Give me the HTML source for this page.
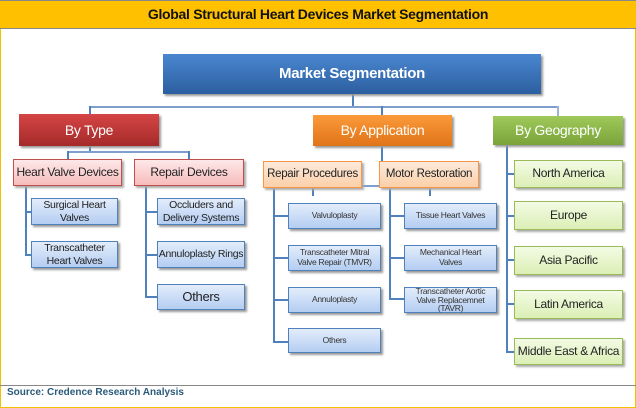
<!DOCTYPE html>
<html><head><meta charset="utf-8"><style>
*{margin:0;padding:0;box-sizing:border-box}
body{width:636px;height:408px;position:relative;background:#fff;font-family:"Liberation Sans",sans-serif;overflow:hidden}
.b{position:absolute;display:flex;align-items:center;justify-content:center;text-align:center;line-height:1.15;letter-spacing:-0.3px}
.l{position:absolute;background:#4f81bd}
.top{background:linear-gradient(#4a86d0,#2c5fa0);color:#fff;font-weight:bold;font-size:15px;box-shadow:2px 2px 2px #999}
.red{background:linear-gradient(#d54545,#a52a2a);color:#fff;font-size:14px;box-shadow:2px 2px 2px #999}
.org{background:linear-gradient(#fb9a3a,#e07418);color:#fff;font-size:14px;box-shadow:2px 2px 2px #999}
.grn{background:linear-gradient(#9fc95a,#7aa43a);color:#fff;font-size:14px;box-shadow:2px 2px 2px #999}
.pk{background:linear-gradient(#fde8e8,#f7bcbc);border:1px solid #c0504d;font-size:12px;color:#222;box-shadow:2px 2px 2px #aaa}
.po{background:linear-gradient(#fdeadb,#fbcfa8);border:1px solid #f79646;font-size:11.5px;color:#222;box-shadow:2px 2px 2px #aaa}
.bl{background:linear-gradient(#e3edfb,#b4cdf2);border:1px solid #4f81bd;color:#222;font-size:10.5px;box-shadow:2px 2px 2px #999}
.bs{font-size:8.5px;color:#333}
.gr{background:linear-gradient(#f3fbe4,#dcefb6);border:1px solid #9bbb59;color:#222;font-size:12px;box-shadow:2px 2px 2px #aaa}
</style></head><body>
<div style="position:absolute;left:0;top:0;width:636px;height:408px;border:1px solid #f2c200"></div>
<div class="b" style="left:0;top:0;width:636px;height:29px;background:#ffc000;border-top:1px solid #888;border-bottom:1px solid #888;font-weight:bold;font-size:14px;color:#111">Global Structural Heart Devices Market Segmentation</div>
<div style="position:absolute;left:0;top:385px;width:636px;height:1px;background:#888"></div>
<div style="position:absolute;left:7px;top:387px;font-size:10px;font-weight:bold;color:#2a5a7a">Source: Credence Research Analysis</div>

<!-- lines -->
<div class="l" style="left:352px;top:94px;width:2px;height:14px"></div>
<div class="l" style="left:89px;top:106px;width:470px;height:2px;background:#7f9fcf"></div>
<div class="l" style="left:89px;top:106px;width:2px;height:9px"></div>
<div class="l" style="left:381px;top:106px;width:2px;height:9px"></div>
<div class="l" style="left:557px;top:106px;width:2px;height:10px;background:#9fb4d6"></div>
<div class="l" style="left:89px;top:146px;width:2px;height:7px"></div>
<div class="l" style="left:67px;top:151px;width:123px;height:2px;background:#7f9fcf"></div>
<div class="l" style="left:67px;top:151px;width:2px;height:8px"></div>
<div class="l" style="left:188px;top:151px;width:2px;height:8px"></div>
<div class="l" style="left:381px;top:146px;width:2px;height:40px"></div>
<div class="l" style="left:312px;top:185px;width:119px;height:2px;background:#7f9fcf"></div>
<div class="l" style="left:312px;top:185px;width:2px;height:11px"></div>
<div class="l" style="left:429px;top:185px;width:2px;height:11px"></div>
<div class="l" style="left:25px;top:186px;width:2px;height:70px"></div>
<div class="l" style="left:25px;top:211px;width:7px;height:2px"></div>
<div class="l" style="left:25px;top:254px;width:7px;height:2px"></div>
<div class="l" style="left:145px;top:186px;width:2px;height:112px"></div>
<div class="l" style="left:145px;top:211px;width:12px;height:2px"></div>
<div class="l" style="left:145px;top:254px;width:12px;height:2px"></div>
<div class="l" style="left:145px;top:296px;width:12px;height:2px"></div>
<div class="l" style="left:273px;top:188px;width:2px;height:155px"></div>
<div class="l" style="left:273px;top:215px;width:15px;height:2px"></div>
<div class="l" style="left:273px;top:257px;width:15px;height:2px"></div>
<div class="l" style="left:273px;top:299px;width:15px;height:2px"></div>
<div class="l" style="left:273px;top:341px;width:15px;height:2px"></div>
<div class="l" style="left:389px;top:188px;width:2px;height:112px"></div>
<div class="l" style="left:389px;top:215px;width:15px;height:2px"></div>
<div class="l" style="left:389px;top:257px;width:15px;height:2px"></div>
<div class="l" style="left:389px;top:298px;width:15px;height:2px"></div>
<div class="l" style="left:506px;top:145px;width:2px;height:208px"></div>
<div class="l" style="left:506px;top:173px;width:8px;height:2px"></div>
<div class="l" style="left:506px;top:215px;width:8px;height:2px"></div>
<div class="l" style="left:506px;top:259px;width:8px;height:2px"></div>
<div class="l" style="left:506px;top:303px;width:8px;height:2px"></div>
<div class="l" style="left:506px;top:351px;width:8px;height:2px"></div>

<!-- boxes -->
<div class="b top" style="left:163px;top:54px;width:378px;height:40px">Market Segmentation</div>
<div class="b red" style="left:19px;top:114px;width:140px;height:32px">By Type</div>
<div class="b org" style="left:313px;top:115px;width:139px;height:31px">By Application</div>
<div class="b grn" style="left:493px;top:116px;width:130px;height:29px">By Geography</div>

<div class="b pk" style="left:13px;top:159px;width:109px;height:27px">Heart Valve Devices</div>
<div class="b pk" style="left:134px;top:159px;width:110px;height:27px">Repair Devices</div>
<div class="b po" style="left:263px;top:161px;width:99px;height:27px">Repair Procedures</div>
<div class="b po" style="left:379px;top:161px;width:100px;height:27px">Motor Restoration</div>

<div class="b bl" style="left:31px;top:198px;width:87px;height:27px">Surgical Heart<br>Valves</div>
<div class="b bl" style="left:31px;top:241px;width:87px;height:27px">Transcatheter<br>Heart Valves</div>
<div class="b bl" style="left:157px;top:198px;width:88px;height:27px">Occluders and<br>Delivery Systems</div>
<div class="b bl" style="left:157px;top:241px;width:88px;height:27px">Annuloplasty Rings</div>
<div class="b bl" style="left:157px;top:284px;width:88px;height:26px;font-size:13px">Others</div>

<div class="b bl bs" style="left:288px;top:203px;width:93px;height:26px">Valvuloplasty</div>
<div class="b bl bs" style="left:288px;top:245px;width:93px;height:26px">Transcatheter Mitral<br>Valve Repair (TMVR)</div>
<div class="b bl bs" style="left:288px;top:287px;width:93px;height:26px">Annuloplasty</div>
<div class="b bl bs" style="left:288px;top:328px;width:93px;height:25px">Others</div>
<div class="b bl bs" style="left:404px;top:203px;width:93px;height:26px">Tissue Heart Valves</div>
<div class="b bl bs" style="left:404px;top:245px;width:93px;height:26px">Mechanical Heart<br>Valves</div>
<div class="b bl bs" style="left:404px;top:287px;width:93px;height:26px;line-height:1.05">Transcatheter Aortic<br>Valve Replacemnet<br>(TAVR)</div>

<div class="b gr" style="left:514px;top:160px;width:109px;height:28px">North America</div>
<div class="b gr" style="left:514px;top:201px;width:109px;height:29px">Europe</div>
<div class="b gr" style="left:514px;top:246px;width:109px;height:29px">Asia Pacific</div>
<div class="b gr" style="left:514px;top:290px;width:109px;height:29px">Latin America</div>
<div class="b gr" style="left:514px;top:338px;width:109px;height:27px">Middle East &amp; Africa</div>
</body></html>
